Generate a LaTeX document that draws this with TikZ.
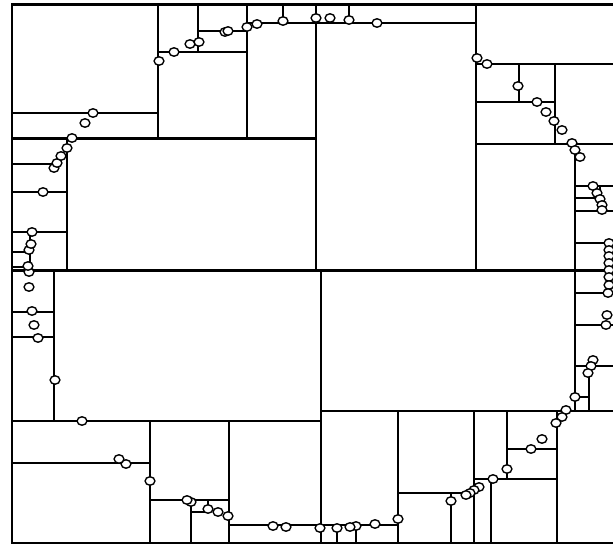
\documentclass[tikz,border=0pt]{standalone}

\begin{document}
\begin{tikzpicture}[
  x=0.02cm, y=-0.02cm,
  split/.style={line width=1.2pt},
  site/.style={draw, fill=white, line width=0.8pt}
]
\useasboundingbox (0,0) rectangle (613,544);
% outer frame
\draw[split] (613,4.5) -- (12,4.5) -- (12,543) -- (613,543);
% cuts of the partition
\foreach \xa/\ya/\xb/\yb in {
  158/4.5/158/138.5, 12/113/158/113, 12/138.5/316/138.5, 316/4.5/316/270.5,
  198/4.5/198/52, 158/52/247/52, 247/4.5/247/138.5, 198/31/247/31,
  283/4.5/283/23, 247/23/476/23, 349/4.5/349/23, 476/4.5/476/270.5,
  67/138.5/67/270.5, 12/164/56/164, 12/192/67/192, 12/232/67/232,
  30/232/30/270.5, 12/252/30/252, 12/267/29/267, 12/270.5/613/270.5,
  54/270.5/54/421, 12/312/54/312, 12/337/54/337, 12/421/321/421,
  321/270.5/321/543, 150/421/150/543, 12/463/150/463, 229/421/229/543,
  150/500/229/500, 191/500/191/543, 191/512/208/512, 208/500/208/512,
  229/525/398/525, 337/525/337/543, 356/525/356/543,
  321/411/613/411, 398/411/398/543, 474/411/474/543, 398/493/474/493,
  451/493/451/543, 507/411/507/479, 474/479/557/479, 557/411/557/543,
  507/449/557/449, 491/479/491/543,
  575/144/575/411, 575/186/613/186, 575/198/600/198, 600/186/600/198,
  575/211/613/211, 575/243/613/243, 575/293/613/293, 575/325/613/325,
  575/366/613/366, 589/366/589/411, 575/397/589/397,
  476/64/613/64, 519/64/519/102, 555/64/555/144, 476/102/555/102,
  476/144/613/144}
  \draw[split] (\xa,\ya) -- (\xb,\yb);
% data points
\foreach \px/\py in {
  159/61, 174/52, 190/44, 199/42, 225/32, 228/31, 247/27, 257/24, 283/21,
  316/18, 330/18, 349/20, 377/23,
  477/58, 487/64, 518/86, 537/102, 546/112, 554/121, 562/130, 572/143,
  575/150, 580/157,
  593/186, 597/193, 600/199, 602/205, 602/210,
  609/243, 609/250, 609/256, 609/263, 609/270, 609/277, 609/285, 608/293,
  607/315, 606/325, 593/360, 591/366, 588/373, 575/397, 566/410, 562/417,
  556/423, 542/439, 531/449, 507/469, 493/479, 479/487, 474/490, 470/493,
  466/495, 451/501, 398/519, 375/524, 356/526, 350/527, 337/528, 320/528,
  286/527, 273/526, 228/516, 218/512, 208/509, 191/502, 187/500, 150/481,
  126/464, 119/459, 82/421, 55/380, 38/338, 34/325, 32/311, 29/287,
  29/272, 28/266, 29/250, 31/244, 32/232, 43/192, 54/168, 57/163, 61/156,
  67/148, 72/138, 85/123, 93/113}
  \draw[site] (\px,\py) ellipse [x radius=2.8pt, y radius=2.4pt];
\end{tikzpicture}
\end{document}
